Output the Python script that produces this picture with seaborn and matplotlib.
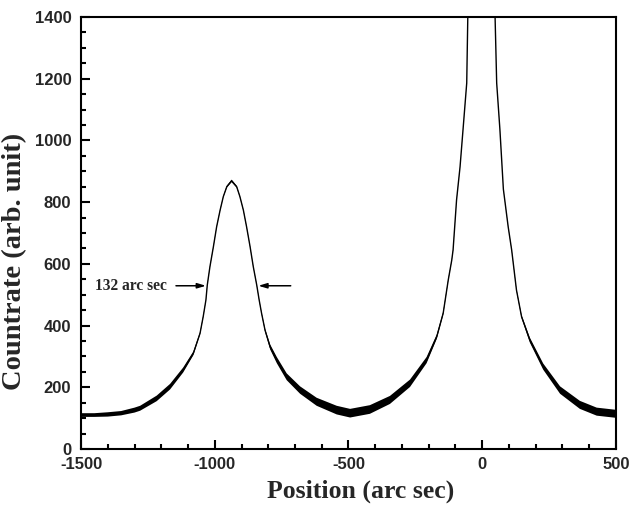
import numpy as np
import pandas as pd
import matplotlib
matplotlib.use("Agg")
import matplotlib.pyplot as plt
import seaborn as sns

# Data
position = [-1500, -1450, -1400, -1350, -1300, -1279, -1217, -1167, -1118, -1080,
            -1055, -1043, -1033, -1028, -1018, -1005, -993, -980, -968, -955,
            -937, -918, -906, -893, -881, -868, -856, -843, -834, -825,
            -812, -793, -768, -731, -681, -619, -544, -494,
            -420, -345, -270, -208, -170, -146, -127, -114, -109, -96, -83,
            -71, -58, -54, -45, 0, 40, 48, 54, 66, 79,
            97, 110, 128, 147, 178, 228, 291, 365, 428, 500]
countrate = [110, 110, 112, 116, 126, 132, 164, 202, 256, 310,
             375, 430, 483, 531, 591, 656, 720, 774, 818, 850,
             869, 850, 818, 774, 720, 656, 591, 531, 483, 440,
             385, 331, 288, 234, 191, 153, 126, 116,
             128, 159, 213, 288, 364, 440, 548, 612, 645, 807, 914,
             1044, 1186, 1400, 2000, 3000, 2000, 1400, 1186, 1036, 842,
             720, 645, 515, 429, 353, 267, 191, 143, 121, 114]
noise = [6, 6, 7, 7, 8, 8, 9, 9, 8, 6,
         4, 3, 2, 2, 2, 2, 2, 2, 2, 3,
         4, 3, 2, 2, 2, 2, 2, 2, 2, 3,
         5, 8, 10, 11, 12, 13, 14, 14,
         14, 13, 12, 10, 7, 5, 3, 2, 2, 1.5, 1,
         1, 1, 1, 0, 0, 0, 1, 1, 1, 1,
         1.5, 2, 3, 5, 8, 10, 12, 13, 13, 13]

fwhm_label = "132 arc sec"
fwhm_y = 529
fwhm_left, fwhm_right = -1033, -837

df = pd.DataFrame({"Position": position, "Countrate": countrate, "noise": noise})

sns.set_style("white")
plt.rcParams["axes.unicode_minus"] = False
fig = plt.figure(figsize=(6.29, 5.09), dpi=100)
ax = fig.add_axes([0.1288, 0.1179, 0.8505, 0.8487])

yv = np.array(countrate, float)
nv = np.array(noise, float)
ax.fill_between(position, yv - nv, yv + nv, color="black", lw=0)
sns.lineplot(data=df, x="Position", y="Countrate", ax=ax, color="black",
             lw=1.0, estimator=None, sort=False)

ax.set_xlim(-1500, 500)
ax.set_ylim(0, 1400)
ax.set_xticks([-1500, -1000, -500, 0, 500])
ax.set_xticks(np.arange(-1500, 501, 100), minor=True)
ax.set_yticks(np.arange(0, 1401, 200))
ax.set_yticks(np.arange(0, 1401, 50), minor=True)

ax.tick_params(which="both", direction="in", top=False, right=False,
               bottom=True, left=True, width=1.5, color="black")
ax.tick_params(which="major", length=6.5)
ax.tick_params(which="minor", length=3.6)
ax.tick_params(axis="y", pad=7)
ax.tick_params(axis="x", pad=6)
for lab in ax.get_xticklabels() + ax.get_yticklabels():
    lab.set_fontfamily("Liberation Sans")
    lab.set_fontweight("bold")
    lab.set_fontsize(12)
for s in ax.spines.values():
    s.set_linewidth(1.5)
    s.set_color("black")

ax.set_xlabel("Position (arc sec)", fontfamily="Liberation Serif",
              fontweight="bold", fontsize=18.5)
ax.set_ylabel("Countrate (arb. unit)", fontfamily="Liberation Serif",
              fontweight="bold", fontsize=20.5)
ax.xaxis.set_label_coords(0.523, -0.07)
ax.yaxis.set_label_coords(-0.101, 0.435)

ax.text(-1448, fwhm_y, fwhm_label, fontfamily="Liberation Serif",
        fontweight="bold", fontsize=11.2, va="center", ha="left")
ax.annotate("", xy=(fwhm_left, fwhm_y), xytext=(-1145, fwhm_y),
            arrowprops=dict(arrowstyle="-|>,head_length=0.5,head_width=0.15",
                            color="black", lw=1.1, shrinkA=0, shrinkB=0))
ax.annotate("", xy=(fwhm_right, fwhm_y), xytext=(-716, fwhm_y),
            arrowprops=dict(arrowstyle="-|>,head_length=0.5,head_width=0.15",
                            color="black", lw=1.1, shrinkA=0, shrinkB=0))

fig.savefig("out.png", dpi=100, facecolor="white")
